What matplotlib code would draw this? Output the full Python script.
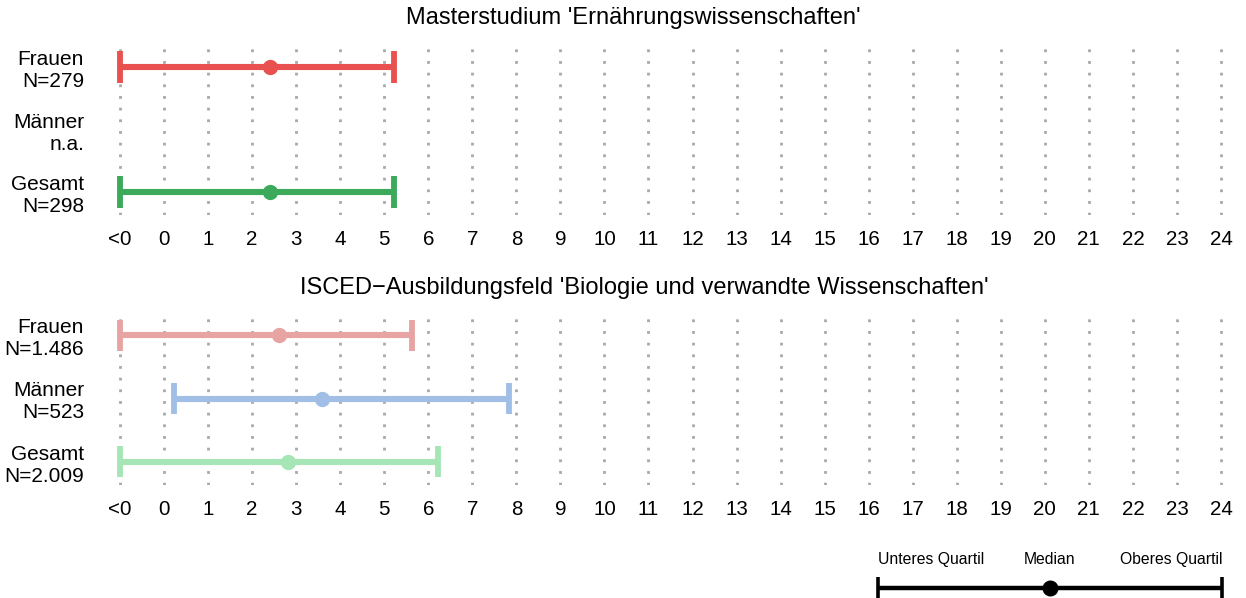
import numpy as np
import matplotlib.pyplot as plt

plt.rcParams['font.family'] = ['Liberation Sans', 'DejaVu Sans']

# data: lower quartile, median, upper quartile (-1 stands for "<0")
titles = ["Masterstudium 'Ernährungswissenschaften'",
          "ISCED\u2212Ausbildungsfeld 'Biologie und verwandte Wissenschaften'"]
groups = ["Frauen", "Männer", "Gesamt"]
n_master = ["N=279", "n.a.", "N=298"]
n_isced = ["N=1.486", "N=523", "N=2.009"]

master_low = [-1, np.nan, -1]
master_med = [2.41, np.nan, 2.41]
master_up = [5.22, np.nan, 5.22]

isced_low = [-1, 0.23, -1]
isced_med = [2.61, 3.59, 2.82]
isced_up = [5.63, 7.83, 6.22]

master_colors = ["#E8514F", "#4D8FD6", "#3CAA5A"]
isced_colors = ["#E8A3A3", "#A0BEE6", "#A6E6B6"]

xticks = list(range(-1, 25))
xlabels = ["<0"] + [str(i) for i in range(0, 25)]

W, H = 1246, 598
fig = plt.figure(figsize=(W / 100, H / 100), dpi=100)


def px_axes(x0, y0, x1, y1):
    return fig.add_axes([x0 / W, 1 - y1 / H, (x1 - x0) / W, (y1 - y0) / H])


def draw_panel(ax, ns, low, med, up, colors):
    ax.set_xlim(-1.5, 24.5)
    ax.set_ylim(0.63, 3.37)
    for x in xticks:
        ax.axvline(x, color="#A8A8A8", lw=2.0, linestyle=(0, (1, 3.2)),
                   dash_capstyle="butt", zorder=1)
    ys = [3, 2, 1]
    for y, lo, me, hi, c in zip(ys, low, med, up, colors):
        if np.isnan(me):
            continue
        ax.plot([lo, hi], [y, y], color=c, lw=4.4, solid_capstyle="butt", zorder=2)
        ax.plot([lo, lo], [y - 0.25, y + 0.25], color=c, lw=4.2, solid_capstyle="butt", zorder=2)
        ax.plot([hi, hi], [y - 0.25, y + 0.25], color=c, lw=4.2, solid_capstyle="butt", zorder=2)
        ax.plot(me, y, "o", color=c, markersize=11, markeredgewidth=0, zorder=3)
    ax.set_yticks(ys)
    ax.set_yticklabels([g + "\n" + n for g, n in zip(groups, ns)],
                       fontsize=15, linespacing=1.2, ha="right")
    ax.set_xticks(xticks)
    ax.set_xticklabels(xlabels, fontsize=14.8)
    ax.tick_params(length=0, axis="x", pad=11)
    ax.tick_params(length=0, axis="y", pad=10)
    for s in ax.spines.values():
        s.set_visible(False)


ax1 = px_axes(98, 44, 1243, 215)
draw_panel(ax1, n_master, master_low, master_med, master_up, master_colors)
ax2 = px_axes(98, 312, 1243, 485)
draw_panel(ax2, n_isced, isced_low, isced_med, isced_up, isced_colors)
fig.text(633 / W, 1 - 18 / H, titles[0], ha="center", va="center", fontsize=17)
fig.text(644 / W, 1 - 288 / H, titles[1], ha="center", va="center", fontsize=17)

# legend explaining the bar
leg_pos = [0.0, 0.5, 1.0]
leg_text = ["Unteres Quartil", "Median", "Oberes Quartil"]
axl = px_axes(878, 540, 1222, 598)
axl.set_xlim(0, 1)
axl.set_ylim(0, 1)
axl.axis("off")
axl.plot([leg_pos[0], leg_pos[2]], [0.17, 0.17], color="black", lw=3.2,
         solid_capstyle="butt", clip_on=False)
for p in [leg_pos[0], leg_pos[2]]:
    axl.plot([p, p], [0.0, 0.36], color="black", lw=2.6, solid_capstyle="butt", clip_on=False)
axl.plot(leg_pos[1], 0.17, "o", color="black", markersize=10.5, clip_on=False)
for p, t, ha in zip(leg_pos, leg_text, ["left", "center", "right"]):
    axl.text(p, 0.67, t, ha=ha, va="center", fontsize=11.3)

fig.savefig("out.png", dpi=100)
